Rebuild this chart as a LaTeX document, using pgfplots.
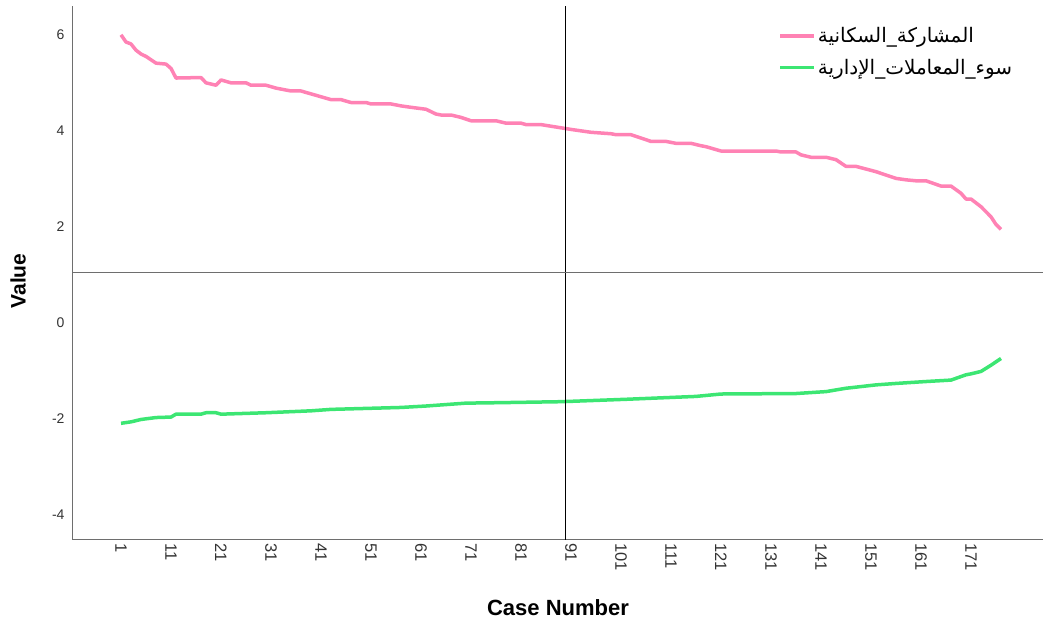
\documentclass[border=0pt]{standalone}
\usepackage{fontspec}
\setmainfont{Liberation Sans}
\newfontfamily\arabicfont[Script=Arabic]{DejaVu Sans}
\TeXXeTstate=1
\usepackage{pgfplots}
\pgfplotsset{compat=1.18}
\definecolor{pinkline}{RGB}{255,130,180}
\definecolor{greenline}{RGB}{60,230,115}
\definecolor{axgray}{RGB}{110,110,110}
\begin{document}
\begin{tikzpicture}
\begin{axis}[
  name=ax,
  scale only axis,
  width=970pt, height=534pt,
  xmin=-8.6, xmax=185.4,
  ymin=-4.52, ymax=6.6,
  axis x line=bottom, axis y line=left,
  axis line style={axgray, line width=1pt, -},
  xtick={1,11,...,171},
  ytick={-4,-2,0,2,4,6},
  major tick length=0pt,
  /pgf/number format/assume math mode=true,
  tick label style={text=black!80},
  xticklabel style={rotate=-90, anchor=west, font=\fontsize{16.5}{18}\selectfont},
  yticklabel style={xshift=-5pt, font=\fontsize{14}{16}\selectfont},
  xlabel={\textbf{Case Number}},
  ylabel={\textbf{Value}},
  xlabel style={at={(axis description cs:0.5,0)}, anchor=center, yshift=-68pt, font=\fontsize{22}{24}\selectfont},
  ylabel style={at={(axis description cs:-0.0567,0.485)}, anchor=center, font=\fontsize{21}{24}\selectfont},
  legend style={draw=none, fill=none, at={(axis description cs:0.727,0.964)}, anchor=north west,
    font=\fontsize{20}{22}\selectfont, row sep=11pt, inner sep=0pt},
  legend cell align=left,
  legend image code/.code={\draw[#1, line width=3.5pt] (0pt,0pt) -- (34pt,0pt);},
  clip=false,
]
\addplot[pinkline, line width=3.5pt, line join=round] coordinates {
(1,6.00) (2,5.85) (3,5.81) (4,5.68) (5,5.60) (6,5.55) (7,5.48) (8,5.41) (10,5.39)
(11,5.30) (12,5.10) (17,5.11) (18,5.00) (20,4.95) (21,5.06) (23,5.00) (26,5.00)
(27,4.95) (30,4.95) (32,4.89) (35,4.83) (37,4.83) (39,4.77) (43,4.65) (45,4.65)
(47,4.59) (50,4.59) (51,4.56) (55,4.56) (57,4.52) (59,4.49) (62,4.45) (64,4.35)
(65,4.33) (67,4.33) (69,4.28) (71,4.21) (76,4.21) (78,4.16) (81,4.16) (82,4.13)
(85,4.13) (88,4.08) (91,4.03) (93,4.00) (95,3.97) (99,3.94) (100,3.92) (103,3.92)
(107,3.78) (110,3.78) (112,3.74) (115,3.74) (117,3.69) (118,3.67) (121,3.58)
(132,3.58) (133,3.56) (136,3.56) (137,3.50) (139,3.45) (142,3.45) (144,3.40)
(146,3.26) (148,3.26) (152,3.15) (154,3.08) (156,3.01) (158,2.98) (160,2.96)
(162,2.96) (165,2.85) (167,2.85) (169,2.70) (170,2.58) (171,2.58) (173,2.42)
(175,2.21) (176,2.05) (177,1.95)
};
\addlegendentry{\arabicfont\beginR المشاركة\_السكانية\endR}
\addplot[greenline, line width=3.5pt, line join=round] coordinates {
(1,-2.09) (3,-2.06) (5,-2.01) (8,-1.97) (11,-1.96) (12,-1.90) (17,-1.90) (18,-1.87)
(20,-1.87) (21,-1.90) (30,-1.87) (39,-1.83) (43,-1.80) (57,-1.76) (62,-1.73)
(70,-1.67) (77,-1.66) (89,-1.64) (102,-1.59) (116,-1.53) (121,-1.48) (136,-1.47)
(142,-1.43) (146,-1.36) (152,-1.29) (156,-1.26) (162,-1.22) (167,-1.19) (170,-1.08)
(171,-1.06) (173,-1.01) (175,-0.88) (177,-0.74)
};
\addlegendentry{\arabicfont\beginR سوء\_المعاملات\_الإدارية\endR}
\draw[black, line width=1pt] (axis cs:89.8,-4.52) -- (axis cs:89.8,6.6);
\draw[axgray, line width=1pt] (axis cs:-8.6,1.05) -- (axis cs:185.4,1.05);
\end{axis}
\pgfresetboundingbox
\path (ax.south west) +(-73pt,-85pt) (ax.north east) +(0pt,6pt);
\end{tikzpicture}
\end{document}
